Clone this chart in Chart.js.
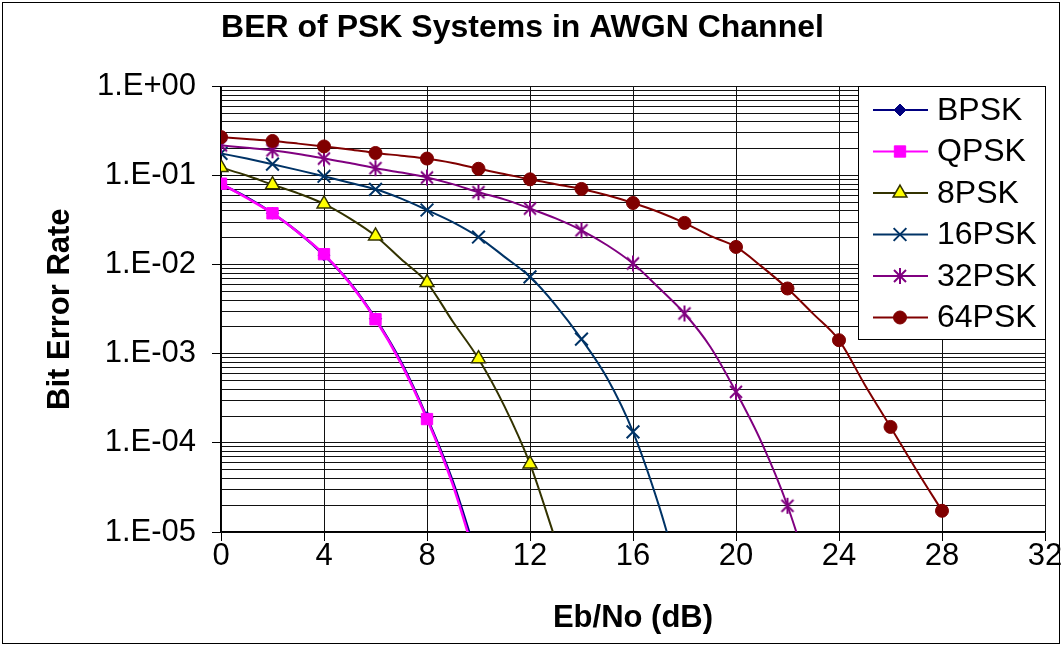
<!DOCTYPE html>
<html>
<head>
<meta charset="utf-8">
<script src="https://cdn.jsdelivr.net/npm/chart.js@4.4.1/dist/chart.umd.min.js"></script>
<style>
  body { margin: 0; background: #fff; }
  canvas { display: block; }
</style>
</head>
<body>
<canvas id="berChart" width="1064" height="647"></canvas>
<script>
// Eb/No (dB), one value per dB; each series uses as many as it has values
const ebNo = [0, 1, 2, 3, 4, 5, 6, 7, 8, 9, 10, 11, 12, 13, 14, 15, 16, 17, 18, 19, 20, 21, 22, 23, 24, 25, 26, 27, 28];

// BER values
const bpsk  = [0.080, 0.057, 0.0378, 0.0231, 0.0128, 0.0063, 0.00247, 0.00080, 0.000192, 3.7e-5, 4.6e-6];
const qpsk  = [0.081, 0.056, 0.0377, 0.0230, 0.0131, 0.0062, 0.00244, 0.00077, 0.000185, 3.4e-5, 3.9e-6];
const psk8  = [0.123, 0.100, 0.079, 0.063, 0.048, 0.033, 0.021, 0.0115, 0.0063, 0.0023, 0.00088, 0.00026, 5.8e-5, 8e-6];
const psk16 = [0.177, 0.155, 0.134, 0.115, 0.098, 0.083, 0.070, 0.055, 0.041, 0.030, 0.0204, 0.0123, 0.0073, 0.0035, 0.00146, 0.00053, 0.000133, 2.0e-5, 2.0e-6];
const psk32 = [0.218, 0.205, 0.192, 0.174, 0.155, 0.138, 0.121, 0.108, 0.095, 0.080, 0.065, 0.054, 0.0426, 0.033, 0.0243, 0.0165, 0.0103, 0.0055, 0.00283, 0.0012, 0.000374, 0.0001, 1.97e-5, 2.5e-6];
const psk64 = [0.270, 0.257, 0.244, 0.228, 0.212, 0.196, 0.179, 0.167, 0.155, 0.138, 0.119, 0.104, 0.0906, 0.080, 0.0707, 0.060, 0.0492, 0.039, 0.0294, 0.021, 0.0158, 0.0095, 0.0054, 0.0028, 0.00142, 0.00045, 0.000151, 5.0e-5, 1.73e-5];

const seriesNames = ['BPSK', 'QPSK', '8PSK', '16PSK', '32PSK', '64PSK'];
const seriesValues = [bpsk, qpsk, psk8, psk16, psk32, psk64];

// y axis: decade values and their labels
const yDecades = [1, 0.1, 0.01, 0.001, 0.0001, 0.00001];
const yTickLabels = ['1.E+00', '1.E-01', '1.E-02', '1.E-03', '1.E-04', '1.E-05'];
const xTickStep = 4;

const FONT = '"Liberation Sans", Arial, sans-serif';

// asterisk marker like excel's star (X plus a vertical bar)
function makeStar(r, color) {
    const c = document.createElement('canvas');
    const s = Math.ceil(r * 2 + 4);
    c.width = s; c.height = s;
    const g = c.getContext('2d');
    const m = s / 2, d = r * 0.75;
    g.strokeStyle = color;
    g.lineWidth = 2;
    g.beginPath();
    g.moveTo(m, m - r); g.lineTo(m, m + r);
    g.moveTo(m - d, m - d); g.lineTo(m + d, m + d);
    g.moveTo(m - d, m + d); g.lineTo(m + d, m - d);
    g.stroke();
    return c;
}

const styles = [
    { color: '#000080', point: 'rectRot', radius: 6, fill: '#000080', border: '#000080', bw: 1 },
    { color: '#FF00FF', point: 'rect', radius: 8, fill: '#FF00FF', border: '#FF00FF', bw: 1 },
    { color: '#333300', point: 'triangle', radius: 8, fill: '#FFFF00', border: '#333300', bw: 1.5 },
    { color: '#003366', point: 'crossRot', radius: 9, fill: '#003366', border: '#003366', bw: 2 },
    { color: '#800080', point: makeStar(8, '#800080'), radius: 8, fill: '#800080', border: '#800080', bw: 2 },
    { color: '#800000', point: 'circle', radius: 6.5, fill: '#800000', border: '#800000', bw: 1 }
];

function toPoints(values) {
    return values.map((v, i) => ({ x: ebNo[i], y: v }));
}

const datasets = seriesNames.map((name, i) => {
    const st = styles[i];
    return {
        label: name,
        data: toPoints(seriesValues[i]),
        borderColor: st.color,
        borderWidth: i < 2 ? 2.5 : 2,
        pointStyle: st.point,
        // markers only every 2 dB, like the original
        pointRadius: ctx => (ctx.dataIndex % 2 === 0 ? st.radius : 0),
        pointHoverRadius: ctx => (ctx.dataIndex % 2 === 0 ? st.radius : 0),
        pointBackgroundColor: st.fill,
        pointBorderColor: st.border,
        pointBorderWidth: st.bw,
        cubicInterpolationMode: 'monotone',
        fill: false,
        order: seriesNames.length - i
    };
});

// all grid values 1..9 x decade
const yGridValues = [];
for (let e = -5; e < 0; e++) {
    for (let m = 1; m <= 9; m++) yGridValues.push(m * Math.pow(10, e));
}
yGridValues.push(1);

function decadeIndex(v) {
    for (let k = 0; k < yDecades.length; k++) {
        if (Math.abs(v - yDecades[k]) / yDecades[k] < 1e-6) return k;
    }
    return -1;
}

const framePlugin = {
    id: 'frame',
    beforeDraw(chart) {
        const ctx = chart.ctx;
        ctx.save();
        ctx.fillStyle = '#fff';
        ctx.fillRect(0, 0, chart.width, chart.height);
        ctx.restore();
    },
    afterDraw(chart) {
        const ctx = chart.ctx;
        ctx.save();
        ctx.strokeStyle = '#000';
        ctx.lineWidth = 1;
        ctx.strokeRect(2.5, 2.5, 1057, 641);
        ctx.restore();
    }
};

const boxLegend = {
    id: 'boxLegend',
    afterDraw(chart) {
        const ctx = chart.ctx;
        const left = 858, top = 86, w = 187, h = 253;
        ctx.save();
        ctx.fillStyle = '#fff';
        ctx.fillRect(left, top, w, h);
        ctx.strokeStyle = '#000';
        ctx.lineWidth = 1;
        ctx.strokeRect(left + 0.5, top + 0.5, w, h);
        chart.data.datasets.forEach((ds, i) => {
            const st = styles[i];
            const y = 110 + i * 41.5;
            ctx.strokeStyle = st.color;
            ctx.lineWidth = 2;
            ctx.beginPath();
            ctx.moveTo(873, y);
            ctx.lineTo(928, y);
            ctx.stroke();
            if (typeof st.point !== 'string') {
                ctx.drawImage(st.point, 900 - st.point.width / 2, y - st.point.height / 2);
            } else {
                ctx.fillStyle = st.fill;
                ctx.strokeStyle = st.border;
                ctx.lineWidth = st.bw;
                Chart.helpers.drawPoint(ctx, { pointStyle: st.point, radius: st.radius, borderWidth: st.bw, rotation: 0 }, 900, y);
            }
            ctx.fillStyle = '#000';
            ctx.font = '32px ' + FONT;
            ctx.textBaseline = 'middle';
            ctx.textAlign = 'left';
            ctx.fillText(ds.label, 937, y + 1);
        });
        ctx.restore();
    }
};

const chart = new Chart(document.getElementById('berChart').getContext('2d'), {
    type: 'line',
    data: { datasets: datasets },
    plugins: [framePlugin, boxLegend],
    options: {
        responsive: false,
        animation: false,
        devicePixelRatio: 1,
        layout: { padding: { left: 0, right: 19, top: 0, bottom: 0 } },
        plugins: {
            legend: { display: false },
            tooltip: { enabled: false },
            title: {
                display: true,
                text: 'BER of PSK Systems in AWGN Channel',
                color: '#000',
                font: { family: FONT, size: 32, weight: 'bold' },
                padding: { top: 9, bottom: 39 }
            }
        },
        scales: {
            x: {
                type: 'linear',
                min: 0,
                max: 32,
                ticks: {
                    stepSize: xTickStep,
                    color: '#000',
                    font: { family: FONT, size: 31 },
                    padding: -3,
                    maxRotation: 0,
                    autoSkip: false
                },
                grid: { color: '#111', lineWidth: 1, tickLength: 9, tickColor: '#000' },
                border: { color: '#000', width: 1.5 },
                title: {
                    display: true,
                    text: 'Eb/No (dB)',
                    color: '#000',
                    font: { family: FONT, size: 31, weight: 'bold' },
                    padding: { top: 0, bottom: 10 }
                },
                afterFit(scale) {
                    scale.height = 115;
                    scale.paddingLeft = 0;
                    scale.paddingRight = 0;
                }
            },
            y: {
                type: 'logarithmic',
                min: 1e-5,
                max: 1,
                afterBuildTicks(scale) {
                    scale.ticks = yGridValues.map(v => ({ value: v }));
                },
                ticks: {
                    autoSkip: false,
                    color: '#000',
                    font: { family: FONT, size: 31 },
                    padding: 16,
                    callback: value => {
                        const k = decadeIndex(value);
                        return k >= 0 ? yTickLabels[k] : '';
                    }
                },
                grid: {
                    color: '#111',
                    lineWidth: 1,
                    tickLength: 9,
                    tickColor: ctx => (ctx.tick && decadeIndex(ctx.tick.value) >= 0 ? '#000' : 'rgba(0,0,0,0)')
                },
                border: { color: '#000', width: 1.5 },
                title: {
                    display: true,
                    text: 'Bit Error Rate',
                    color: '#000',
                    font: { family: FONT, size: 31, weight: 'bold' },
                    padding: { top: 42, bottom: 0 }
                },
                afterFit(scale) {
                    scale.width = 221;
                    scale.paddingTop = 0;
                    scale.paddingBottom = 0;
                }
            }
        }
    }
});
</script>
</body>
</html>
